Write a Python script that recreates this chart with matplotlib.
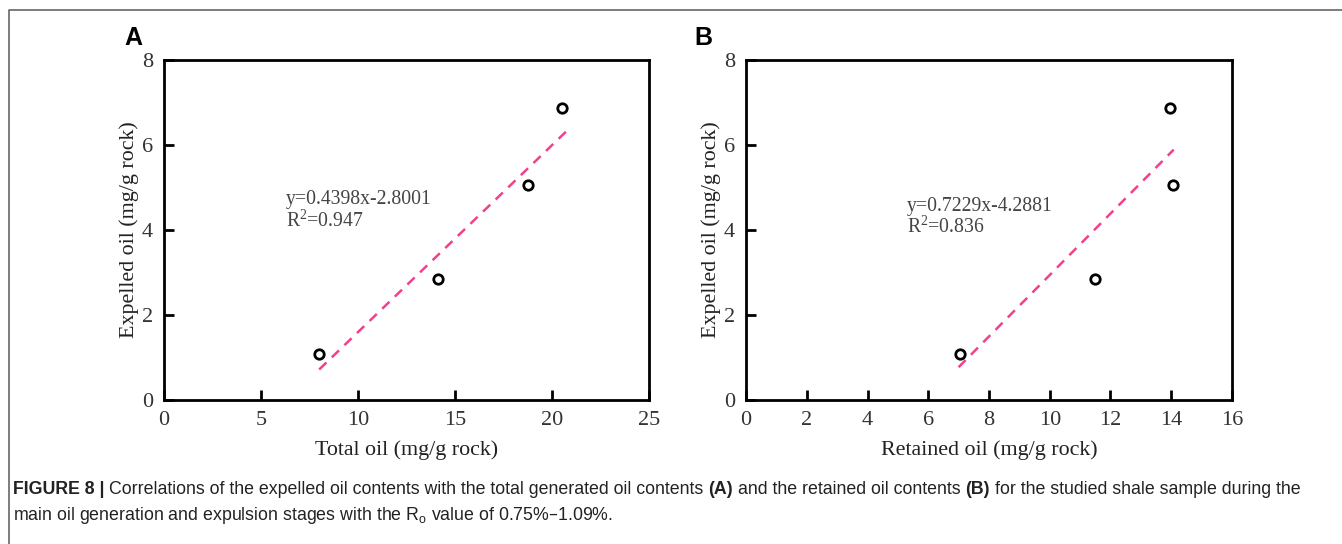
import numpy as np
import matplotlib
matplotlib.use("Agg")
import matplotlib.pyplot as plt
from matplotlib.lines import Line2D

# measured oil contents (mg/g rock)
total_oil = [8.0, 14.1, 18.75, 20.5]
retained_oil = [7.05, 11.5, 13.95, 14.05]
expelled_oil = [1.08, 2.85, 6.87, 5.05]
expelled_oil_a = [1.08, 2.85, 5.05, 6.87]

# linear fits reported on each panel
fit_a = (0.4398, -2.8001, 0.947)
fit_b = (0.7229, -4.2881, 0.836)
fit_range_a = (8.0, 20.75)
fit_range_b = (7.0, 14.08)

xticks_a = [0, 5, 10, 15, 20, 25]
xticks_b = [0, 2, 4, 6, 8, 10, 12, 14, 16]
yticks = [0, 2, 4, 6, 8]

W, H = 1342, 544
fig = plt.figure(figsize=(W / 100, H / 100), dpi=100)

serif = ["Liberation Serif", "DejaVu Serif"]
sans = ["Liberation Sans", "DejaVu Sans"]


def panel(rect, x, y, fit, fit_range, xticks, xlim, xlabel, letter, letter_x, text_xy):
    ax = fig.add_axes(rect)
    slope, icpt, r2 = fit
    xs = np.array(fit_range)
    ax.plot(xs, slope * xs + icpt, color="#f2408c", lw=1.8,
            dashes=(4, 3), zorder=2)
    ax.plot(x, y, "o", mfc="white", mec="black", mew=2.0, ms=6.8,
            ls="none", zorder=3)
    ax.set_xlim(*xlim)
    ax.set_ylim(0, 8)
    ax.set_xticks(xticks)
    ax.set_yticks(yticks)
    for s in ax.spines.values():
        s.set_linewidth(2.0)
    ax.tick_params(direction="in", length=7, width=2.0, top=False, right=False,
                   labelsize=16, labelcolor="#333333", pad=8)
    for lab in ax.get_xticklabels() + ax.get_yticklabels():
        lab.set_family(serif)
    ax.set_xlabel(xlabel, family=serif, fontsize=15.8, color="#222222", labelpad=7)
    ax.set_ylabel("Expelled oil (mg/g rock)", family=serif, fontsize=15.8,
                  color="#222222", labelpad=2)
    sign = "-" if icpt < 0 else "+"
    ax.text(text_xy[0], text_xy[1],
            f"y={slope:.4f}x{sign}{abs(icpt):.4f}\n"
            r"R$^{\mathregular{2}}$" + f"={r2:.3f}",
            family=serif, fontsize=14.2, color="#444444", va="center",
            linespacing=1.0)
    fig.text(letter_x / W, 1 - 38 / H, letter, family=sans, fontsize=18,
             fontweight="bold", ha="center", va="center")
    return ax


panel([164 / W, 144 / H, 485 / W, 340 / H], total_oil, expelled_oil_a,
      fit_a, fit_range_a, xticks_a, (0, 25), "Total oil (mg/g rock)", "A", 133,
      (6.3, 4.45))
panel([746 / W, 144 / H, 486 / W, 340 / H], retained_oil, expelled_oil,
      fit_b, fit_range_b, xticks_b, (0, 16), "Retained oil (mg/g rock)", "B", 703,
      (5.3, 4.3))

# thin frame around the figure (top and left edges)
fig.add_artist(Line2D([9 / W, 9 / W, 1.0], [0.0, 1 - 10 / H, 1 - 10 / H],
                      transform=fig.transFigure, color="#666666", lw=1.2))

# caption with bold runs, laid out piece by piece
caption = [
    [("FIGURE 8 |", "bold"),
     ("Correlations of the expelled oil contents with the total generated oil contents", "normal"),
     ("(A)", "bold"),
     ("and the retained oil contents", "normal"),
     ("(B)", "bold"),
     ("for the studied shale sample during the", "normal")],
    [(r"main oil generation and expulsion stages with the R$_\mathregular{o}$ value of 0.75%–1.09%.", "normal")],
]
cap_size = 12.8
renderer = fig.canvas.get_renderer()
probe = fig.text(0, 0, "x x", family=sans, fontsize=cap_size)
w2 = probe.get_window_extent(renderer).width
probe.set_text("xx")
space = w2 - probe.get_window_extent(renderer).width
probe.remove()

for i, line in enumerate(caption):
    xpix = 13
    ypix = H - (489 + 27 * i)
    for j, (txt, weight) in enumerate(line):
        t = fig.text(xpix / W, ypix / H, txt, family=sans, fontsize=cap_size,
                     fontweight=weight, color="#222222", va="center")
        xpix += t.get_window_extent(renderer).width
        if j < len(line) - 1:
            xpix += space

fig.savefig("out.png", dpi=100)
